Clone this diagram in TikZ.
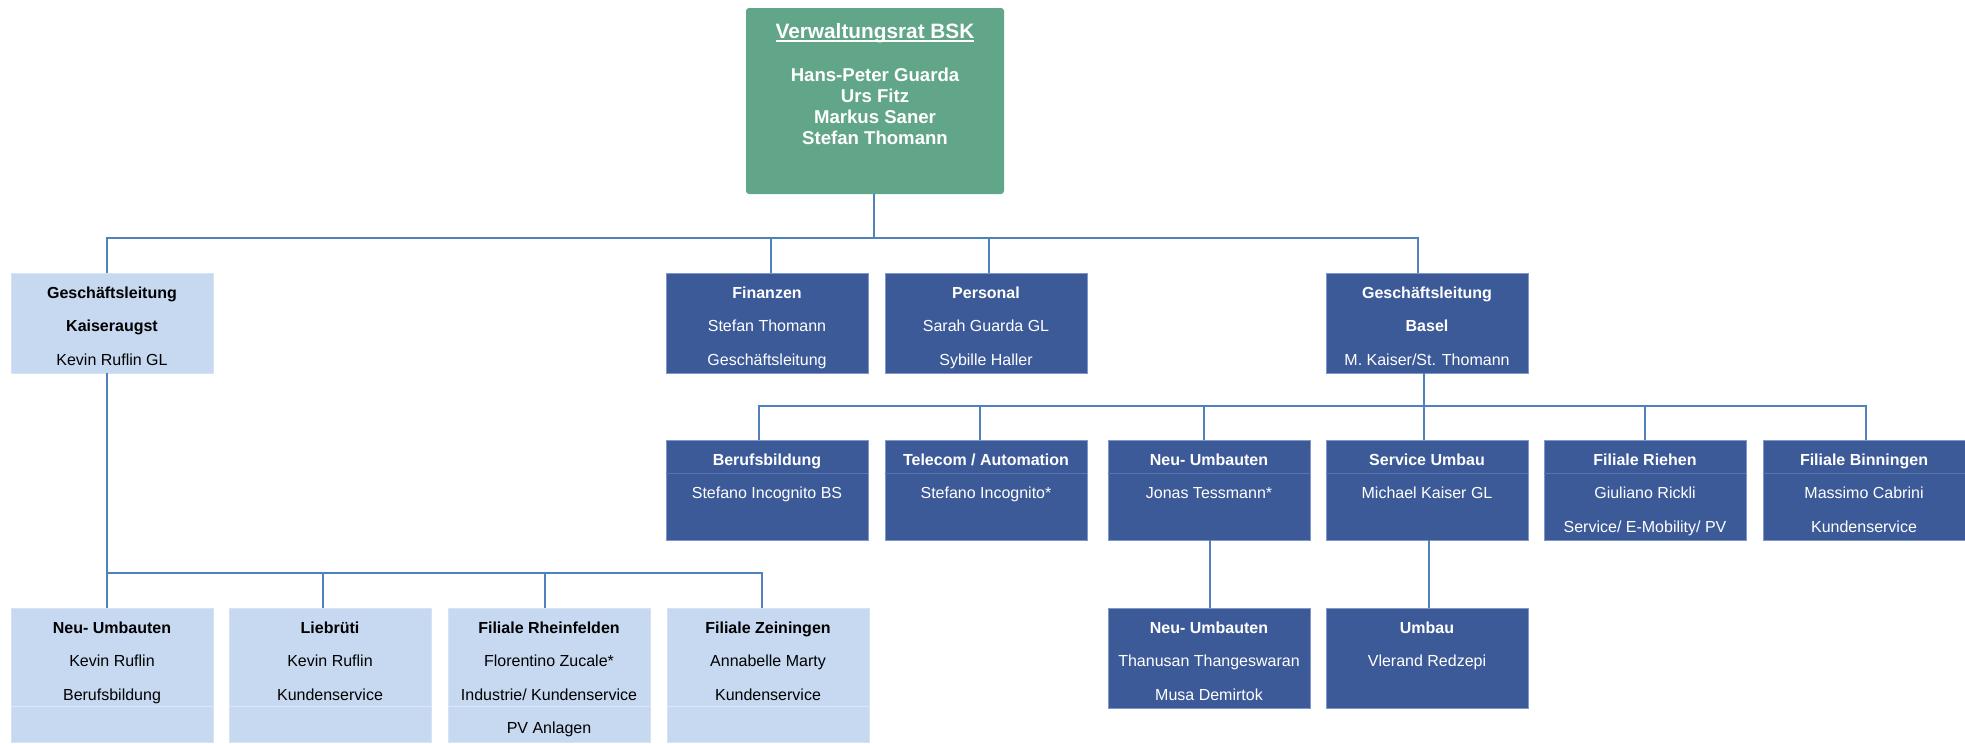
\documentclass[tikz,border=0pt]{standalone}
\usepackage{fontspec}
\setmainfont{Liberation Sans}
\definecolor{vrgreen}{HTML}{62A68A}
\definecolor{dkblue}{HTML}{3D5A98}
\definecolor{dkedge}{HTML}{7F98CA}
\definecolor{ltblue}{HTML}{C6D9F1}
\definecolor{ltedge}{HTML}{D6E3F4}
\definecolor{lineblue}{HTML}{4F81BD}
\definecolor{divdk}{HTML}{5A76B0}
\definecolor{divlt}{HTML}{DCE7F5}
\newcommand\laststrut{\rule[-3pt]{0pt}{11.725pt}}
\newcommand\titleul[1]{\setbox0\hbox{#1}\rlap{\rule[-1.7pt]{\wd0}{0.95pt}}\box0}
\begin{document}
\begin{tikzpicture}[x=0.5pt,y=-0.5pt,
  box/.style={rectangle, minimum width=101pt, minimum height=50pt, inner sep=0pt,
    align=center, font=\fontsize{8pt}{16.75pt}\selectfont},
  dark/.style={box, fill=dkblue, draw=dkedge, line width=0.4pt, text=white},
  light/.style={box, fill=ltblue, draw=ltedge, line width=0.4pt, text=black},
  tallbox/.style={minimum height=67pt},
  topbox/.style={rectangle, rounded corners=1.5pt, fill=vrgreen, minimum width=129pt, minimum height=93pt, inner sep=0pt},
  toptext/.style={inner sep=0pt, align=center, text=white, font=\bfseries\fontsize{9.3pt}{10.5pt}\selectfont},
  conn/.style={draw=lineblue, line width=0.9pt},
  divd/.style={draw=divdk, line width=0.5pt},
  divl/.style={draw=divlt, line width=0.6pt}
]
\fill[white] (0,0) rectangle (1965,744);
\useasboundingbox (0,0) rectangle (1965,744);

% bus coordinates
\coordinate (b1) at (0,238);
\coordinate (b2) at (0,406);
\coordinate (b3) at (0,573);

% top box
\node[topbox] (vr) at (875,101) {};
\node[toptext, anchor=north] (vrtext) at ([yshift=-7.9pt]vr.north)
  {{\fontsize{10.4pt}{10.5pt}\selectfont\titleul{Verwaltungsrat BSK}}\strut\\[0.3pt]
   \strut\\
   Hans-Peter Guarda\strut\\
   Urs Fitz\strut\\
   Markus Saner\strut\\
   Stefan Thomann\strut};

% level 2
\node[light] (gka) at (112,323) {\textbf{Geschäftsleitung}\strut\\\textbf{Kaiseraugst}\strut\\Kevin Ruflin GL\laststrut};
\node[dark] (fin) at (767,323) {\textbf{Finanzen}\strut\\Stefan Thomann\strut\\Geschäftsleitung\laststrut};
\node[dark] (per) at (986,323) {\textbf{Personal}\strut\\Sarah Guarda GL\strut\\Sybille Haller\laststrut};
\node[dark] (gbs) at (1427,323) {\textbf{Geschäftsleitung}\strut\\\textbf{Basel}\strut\\M. Kaiser/St. Thomann\laststrut};

% level 3 (Basel)
\node[dark] (bb)  at (767,490)  {\textbf{Berufsbildung}\strut\\Stefano Incognito BS\strut\\\laststrut};
\node[dark] (tel) at (986,490)  {\textbf{Telecom / Automation}\strut\\Stefano Incognito*\strut\\\laststrut};
\node[dark] (neu) at (1209,490) {\textbf{Neu- Umbauten}\strut\\Jonas Tessmann*\strut\\\laststrut};
\node[dark] (svc) at (1427,490) {\textbf{Service Umbau}\strut\\Michael Kaiser GL\strut\\\laststrut};
\node[dark] (rie) at (1645,490) {\textbf{Filiale Riehen}\strut\\Giuliano Rickli\strut\\Service/ E-Mobility/ PV\laststrut};
\node[dark] (bin) at (1864,490) {\textbf{Filiale Binningen}\strut\\Massimo Cabrini\strut\\Kundenservice\laststrut};

% level 4 (Basel)
\node[dark] (neu2) at (1209,658) {\textbf{Neu- Umbauten}\strut\\Thanusan Thangeswaran\strut\\Musa Demirtok\laststrut};
\node[dark] (umb)  at (1427,658) {\textbf{Umbau}\strut\\Vlerand Redzepi\strut\\\laststrut};

% level 3 (Kaiseraugst)
\node[light, tallbox] (nku) at (112,675) {\textbf{Neu- Umbauten}\strut\\Kevin Ruflin\strut\\Berufsbildung\strut\\\laststrut};
\node[light, tallbox] (lie) at (330,675) {\textbf{Liebrüti}\strut\\Kevin Ruflin\strut\\Kundenservice\strut\\\laststrut};
\node[light, tallbox] (rhe) at (549,675) {\textbf{Filiale Rheinfelden}\strut\\Florentino Zucale*\strut\\Industrie/ Kundenservice\strut\\PV Anlagen\laststrut};
\node[light, tallbox] (zei) at (768,675) {\textbf{Filiale Zeiningen}\strut\\Annabelle Marty\strut\\Kundenservice\strut\\\laststrut};

% row dividers
\foreach \n in {bb,tel,neu,svc,rie,bin}
  \draw[divd] ([yshift=-16.75pt]\n.north west) -- ([yshift=-16.75pt]\n.north east);
\foreach \n in {nku,lie,rhe,zei}
  \draw[divl] ([yshift=-49.5pt]\n.north west) -- ([yshift=-49.5pt]\n.north east);

% connectors: level 1 -> 2
\draw[conn] ([xshift=-0.5pt]vr.south) -- ([xshift=-0.5pt]vr.south |- b1);
\draw[conn] ([xshift=-2.5pt]gka.north) -- ([xshift=-2.5pt]gka.north |- b1) -| ([xshift=-4.5pt]gbs.north);
\draw[conn] ([xshift=2pt]fin.north) -- ([xshift=2pt]fin.north |- b1);
\draw[conn] ([xshift=1.5pt]per.north) -- ([xshift=1.5pt]per.north |- b1);

% Basel -> level 3
\draw[conn] ([xshift=-1.5pt]gbs.south) -- ([xshift=-1.5pt]gbs.south |- b2);
\draw[conn] ([xshift=-4pt]bb.north) -- ([xshift=-4pt]bb.north |- b2) -| ([xshift=1pt]bin.north);
\draw[conn] ([xshift=-3pt]tel.north) -- ([xshift=-3pt]tel.north |- b2);
\draw[conn] ([xshift=-2.5pt]neu.north) -- ([xshift=-2.5pt]neu.north |- b2);
\draw[conn] ([xshift=-1.5pt]svc.north) -- ([xshift=-1.5pt]svc.north |- b2);
\draw[conn] (rie.north) -- (rie.north |- b2);

% level 3 -> 4
\draw[conn] ([xshift=0.5pt]neu.south) -- ([xshift=0.5pt]neu2.north);
\draw[conn] ([xshift=1pt]svc.south) -- ([xshift=1pt]umb.north);

% Kaiseraugst -> children
\draw[conn] ([xshift=-2.5pt]gka.south) -- ([xshift=-2.5pt]gka.south |- b3);
\draw[conn] ([xshift=-2.5pt]nku.north) -- ([xshift=-2.5pt]nku.north |- b3) -| ([xshift=-3pt]zei.north);
\draw[conn] ([xshift=-3.5pt]lie.north) -- ([xshift=-3.5pt]lie.north |- b3);
\draw[conn] ([xshift=-2pt]rhe.north) -- ([xshift=-2pt]rhe.north |- b3);
\end{tikzpicture}
\end{document}
